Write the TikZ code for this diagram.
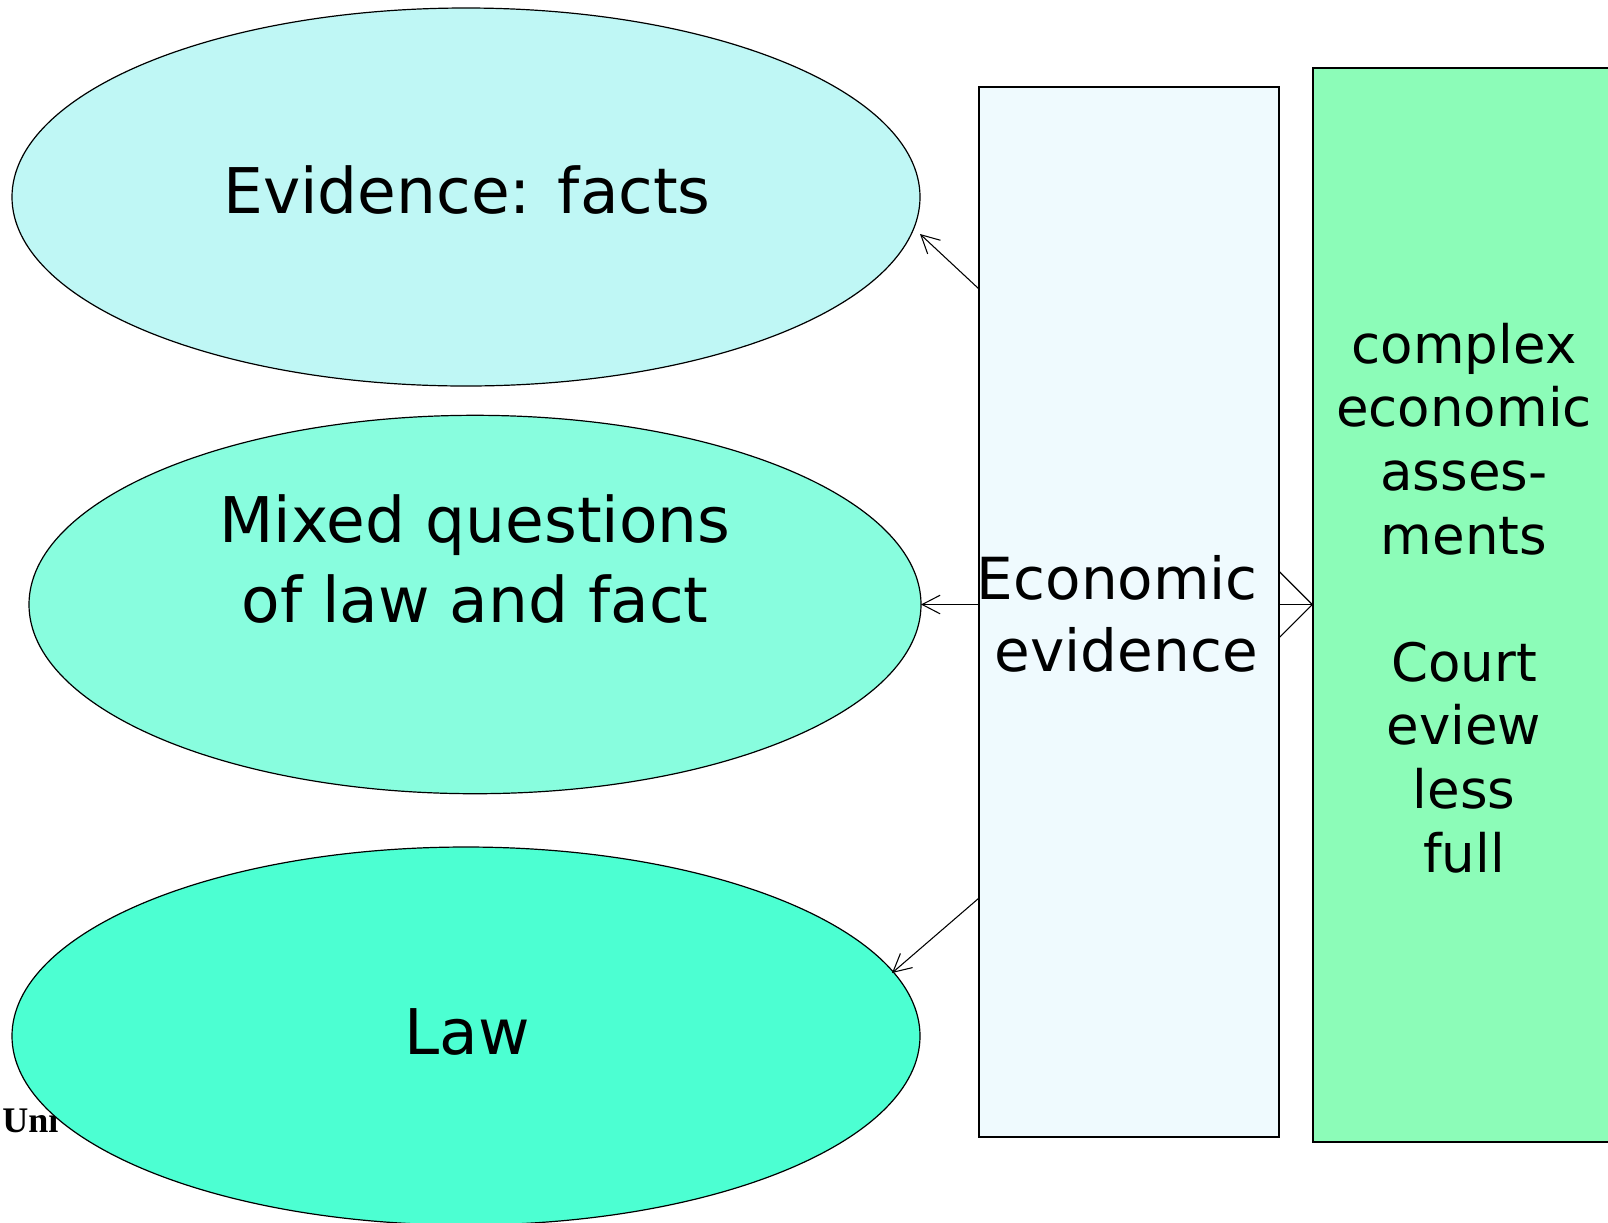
\documentclass[tikz,border=0pt]{standalone}
\usepackage{fontspec}
\setmainfont{DejaVu Sans}
\newfontfamily\unifont{Liberation Serif}
\usetikzlibrary{shapes.geometric,arrows.meta}
\definecolor{cEa}{RGB}{191,247,245}
\definecolor{cEb}{RGB}{136,253,222}
\definecolor{cEc}{RGB}{76,255,210}
\definecolor{cBa}{RGB}{239,250,254}
\definecolor{cBb}{RGB}{140,252,184}
\begin{document}
\begin{tikzpicture}[x=0.75pt,y=-0.75pt,
  oval/.style={ellipse, draw, line width=0.9pt, inner sep=0pt, outer sep=0pt,
    minimum width=681pt, minimum height=283.5pt},
  panel/.style={draw, line width=1.2pt, inner sep=0pt, outer sep=0pt},
  arr/.style={draw, line width=0.8pt, -{Straight Barb[length=13.5pt, width=14pt]}},
  bigarr/.style={draw, line width=0.8pt, -{Straight Barb[length=25.5pt, width=51pt]}},
  big/.style={font=\fontsize{47.25}{60}\selectfont, inner sep=0pt, align=center},
  mid/.style={font=\fontsize{43.5}{54}\selectfont, inner sep=0pt, align=right},
  small/.style={font=\fontsize{39.75}{47.7}\selectfont, inner sep=0pt, align=center}]
\useasboundingbox (0,0) rectangle (1608,1222);
% partly hidden footer text
\node[font=\unifont\bfseries\fontsize{27}{30}\selectfont, anchor=base west, inner sep=0pt] (uni) at (2,1132) {Uni};
% ellipses
\node[oval, fill=cEa] (e1) at (466,197) {};
\node[oval, fill=cEb, minimum width=669pt, minimum height=283.8pt] (e2) at (475,604.5) {};
\node[oval, fill=cEc] (e3) at (466,1036) {};
% boxes
\node[panel, fill=cBa, minimum width=225pt, minimum height=787.5pt] (b1) at (1129,612) {};
\node[panel, fill=cBb, minimum width=245.25pt, minimum height=805.5pt] (b2) at (1476.5,605) {};
% connectors
\coordinate (s1) at (979,289);
\coordinate (t1) at (920,234);
\coordinate (s3) at (979,898);
\coordinate (t3) at (892,973);
\draw[arr] (s1) -- (t1);
\draw[arr] (b1.west |- e2.east) -- (e2.east);
\draw[arr] (s3) -- (t3);
\draw[bigarr] (b1.east |- e2.east) -- (b2.west |- e2.east);
% texts
\node[big, anchor=base] (te1) at (467,213) {Evidence: facts};
\node[big, anchor=base] (te2) at (475,622) {Mixed questions\\of law and fact};
\node[big, anchor=base] (te3) at (467,1054) {Law};
\node[mid, anchor=base east] (tb1) at (1258,671) {Economic\\evidence};
\node[small, anchor=base] (tb2) at (1464,872) {complex\\economic\\asses-\\ments\\[47.7pt]Court\\eview\\less\\full};
\end{tikzpicture}
\end{document}
